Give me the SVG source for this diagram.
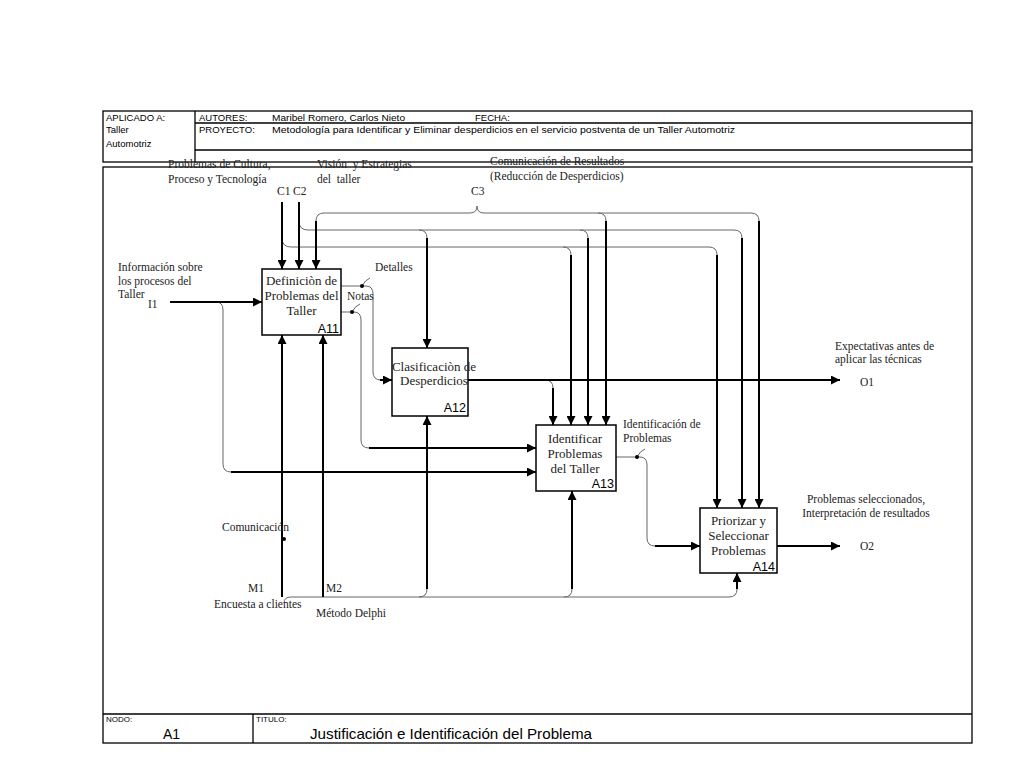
<svg xmlns="http://www.w3.org/2000/svg" width="1024" height="768" viewBox="0 0 1024 768">
<defs>
<marker id="ah" viewBox="0 0 10 10" refX="10" refY="5" markerWidth="9" markerHeight="9" markerUnits="userSpaceOnUse" orient="auto">
<path d="M0,0 L10,5 L0,10 z" fill="#000"/>
</marker>
<style>
.frame{fill:none;stroke:#000;stroke-width:1.3}
.box{fill:#fff;stroke:#000;stroke-width:1.5}
.hdr{font-family:"Liberation Sans",Arial,sans-serif;font-size:9.5px;fill:#000}
.ftr{font-family:"Liberation Sans",Arial,sans-serif;font-size:8px;fill:#000}
.lbl{font-family:"Liberation Serif","Times New Roman",serif;font-size:11.5px;fill:#222}
.btx{font-family:"Liberation Serif","Times New Roman",serif;font-size:13px;fill:#222;text-anchor:middle}
.nid{font-family:"Liberation Sans",Arial,sans-serif;font-size:12.5px;fill:#000;text-anchor:end}
.thick{fill:none;stroke:#000;stroke-width:2}
.thin{fill:none;stroke:#666;stroke-width:1}
.arr{marker-end:url(#ah)}
</style>
</defs>
<rect width="1024" height="768" fill="#fff"/>

<g id="header">
<rect class="frame" x="103" y="111" width="869" height="51"/>
<line class="frame" x1="195" y1="111" x2="195" y2="162"/>
<line class="frame" x1="195" y1="123" x2="972" y2="123"/>
<line class="frame" x1="195" y1="150" x2="972" y2="150"/>
<text class="hdr" x="106" y="120.5">APLICADO A:</text>
<text class="hdr" x="106" y="133">Taller</text>
<text class="hdr" x="106" y="147">Automotriz</text>
<text class="hdr" x="199" y="120.5">AUTORES:</text>
<text class="hdr" x="272" y="120.5" textLength="133" lengthAdjust="spacingAndGlyphs">Maribel Romero, Carlos Nieto</text>
<text class="hdr" x="475" y="120.5">FECHA:</text>
<text class="hdr" x="199" y="133">PROYECTO:</text>
<text class="hdr" x="272" y="133" textLength="463" lengthAdjust="spacingAndGlyphs">Metodología para Identificar y Eliminar desperdicios en el servicio postventa de un Taller Automotriz</text>
</g>

<g id="frame">
<rect class="frame" x="103" y="167" width="869" height="576"/>
<line class="frame" x1="103" y1="714" x2="972" y2="714"/>
<line class="frame" x1="253" y1="714" x2="253" y2="743"/>
<text class="ftr" x="106" y="722">NODO:</text>
<text x="163" y="739" font-family="Liberation Sans, Arial, sans-serif" font-size="14">A1</text>
<text class="ftr" x="256" y="722">TITULO:</text>
<text x="310" y="739" font-family="Liberation Sans, Arial, sans-serif" font-size="15" textLength="282" lengthAdjust="spacingAndGlyphs">Justificación e Identificación del Problema</text>
</g>

<g id="connectors">
<path class="thin" d="M282,238 Q282,247 291,247 H709 Q717,247 717,255"/>
<path class="thin" d="M563,247 Q571,247 571,255"/>
<path class="thin" d="M299,221 Q299,230 308,230 H734 Q742,230 742,238"/>
<path class="thin" d="M419,230 Q427,230 427,238"/>
<path class="thin" d="M580,230 Q588,230 588,238"/>
<path class="thin" d="M316,221 Q316,213 324,213 H470 Q477,213 477,206 Q477,213 484,213 H751 Q759,213 759,221"/>
<path class="thin" d="M598,213 Q606,213 606,221"/>
<path class="thin" d="M216,302 Q223,302 223,310 V464 Q223,472 231,472"/>
<path class="thin" d="M341,286 H366 Q373,286 373,294 V372 Q373,380 381,380"/>
<path class="thin" d="M341,312 H354 Q361,312 361,320 V440 Q361,448 369,448"/>
<path class="thin" d="M616,457 H640 Q647,457 647,465 V538 Q647,546 655,546"/>
<path class="thin" d="M545,380 Q553,380 553,388"/>
<path class="thin" d="M284,603 Q284,597 291,597 H729 Q737,597 737,589"/>
<path class="thin" d="M419,597 Q427,597 427,589"/>
<path class="thin" d="M564,597 Q572,597 572,589"/>
<path class="thin" d="M362,286 Q365,280 370,278"/>
<path class="thin" d="M352,312 Q355,306 360,304"/>
<path class="thin" d="M637,457 Q640,451 645,449"/>
<circle cx="362" cy="286" r="2" fill="#000"/>
<circle cx="352" cy="312" r="2" fill="#000"/>
<circle cx="637" cy="457" r="2" fill="#000"/>
<circle cx="284" cy="539" r="2" fill="#000"/>
<path class="thick arr" d="M170,302 H262"/>
<path class="thick arr" d="M282,202 V269"/>
<path class="thick arr" d="M299,202 V269"/>
<path class="thick arr" d="M316,221 V269"/>
<path class="thick arr" d="M282,597 V335"/>
<path class="thick arr" d="M323,597 V335"/>
<path class="thick arr" d="M427,238 V348"/>
<path class="thick arr" d="M427,589 V416"/>
<path class="thick arr" d="M380,380 H392"/>
<path class="thick arr" d="M468,380 H840"/>
<path class="thick arr" d="M553,388 V425"/>
<path class="thick arr" d="M571,255 V425"/>
<path class="thick arr" d="M588,238 V425"/>
<path class="thick arr" d="M606,221 V425"/>
<path class="thick arr" d="M369,448 H536"/>
<path class="thick arr" d="M231,472 H536"/>
<path class="thick arr" d="M572,589 V491"/>
<path class="thick arr" d="M717,255 V508"/>
<path class="thick arr" d="M742,238 V508"/>
<path class="thick arr" d="M759,221 V508"/>
<path class="thick arr" d="M655,546 H700"/>
<path class="thick arr" d="M737,589 V573"/>
<path class="thick arr" d="M777,546 H840"/>
</g>

<g id="A11">
<rect class="box" x="262" y="269" width="79" height="66"/>
<text class="btx" x="301.5" y="285">Definiciòn de</text>
<text class="btx" x="301.5" y="300">Problemas del</text>
<text class="btx" x="301.5" y="315">Taller</text>
<text class="nid" x="339" y="333">A11</text>
</g>

<g id="A12">
<rect class="box" x="392" y="348" width="76" height="68"/>
<text class="btx" x="434" y="371">Clasificaciòn de</text>
<text class="btx" x="434" y="385">Desperdicios</text>
<text class="nid" x="466" y="412">A12</text>
</g>

<g id="A13">
<rect class="box" x="536" y="425" width="80" height="66"/>
<text class="btx" x="575" y="443">Identificar</text>
<text class="btx" x="575" y="458">Problemas</text>
<text class="btx" x="575" y="473">del Taller</text>
<text class="nid" x="614" y="488">A13</text>
</g>

<g id="A14">
<rect class="box" x="700" y="508" width="77" height="65"/>
<text class="btx" x="738.5" y="525">Priorizar y</text>
<text class="btx" x="738.5" y="540">Seleccionar</text>
<text class="btx" x="738.5" y="555">Problemas</text>
<text class="nid" x="775" y="571">A14</text>
</g>

<g id="labels">
<text class="lbl" x="168" y="168">Problemas de Cultura,</text>
<text class="lbl" x="168" y="183">Proceso y Tecnología</text>
<text class="lbl" x="317" y="168">Visión&#160; y Estrategias</text>
<text class="lbl" x="317" y="183">del&#160; taller</text>
<text class="lbl" x="490" y="165">Comunicación de Resultados</text>
<text class="lbl" x="490" y="180">(Reducción de Desperdicios)</text>
<text class="lbl" x="277" y="195">C1</text>
<text class="lbl" x="293" y="195">C2</text>
<text class="lbl" x="471" y="195">C3</text>
<text class="lbl" x="118" y="271">Información sobre</text>
<text class="lbl" x="118" y="285">los procesos del</text>
<text class="lbl" x="118" y="298">Taller</text>
<text class="lbl" x="148" y="308">I1</text>
<text class="lbl" x="375" y="271">Detalles</text>
<text class="lbl" x="347" y="300">Notas</text>
<text class="lbl" x="623" y="428">Identificación de</text>
<text class="lbl" x="623" y="442">Problemas</text>
<text class="lbl" x="835" y="350">Expectativas antes de</text>
<text class="lbl" x="835" y="363">aplicar las técnicas</text>
<text class="lbl" x="860" y="386">O1</text>
<text class="lbl" x="866" y="503" text-anchor="middle">Problemas seleccionados,</text>
<text class="lbl" x="866" y="517" text-anchor="middle">Interpretación de resultados</text>
<text class="lbl" x="860" y="550">O2</text>
<text class="lbl" x="222" y="531">Comunicación</text>
<text class="lbl" x="248" y="592">M1</text>
<text class="lbl" x="326" y="592">M2</text>
<text class="lbl" x="214" y="608">Encuesta a clientes</text>
<text class="lbl" x="316" y="617">Método Delphi</text>
</g>
</svg>
